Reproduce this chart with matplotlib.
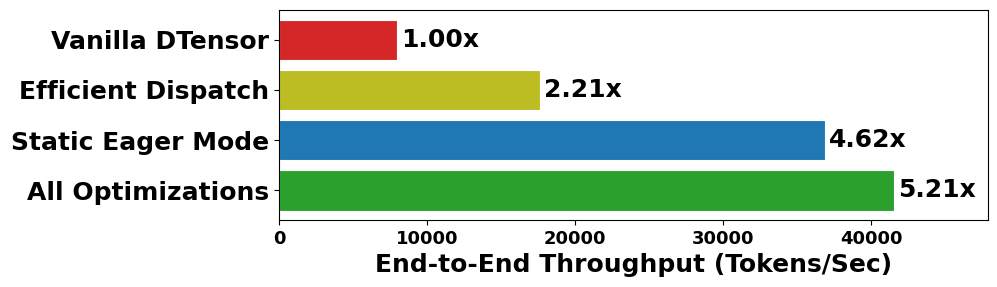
import matplotlib
matplotlib.use('Agg')
import matplotlib.pyplot as plt
import numpy as np

plt.rcParams['font.family'] = 'DejaVu Sans'
plt.rcParams['font.weight'] = 'bold'

# data
methods = ['Vanilla DTensor', 'Efficient Dispatch', 'Static Eager Mode', 'All Optimizations']
throughput = [7980, 17650, 36870, 41580]
speedup = ['1.00x', '2.21x', '4.62x', '5.21x']
colors = ['tab:red', 'tab:olive', 'tab:blue', 'tab:green']

fig = plt.figure(figsize=(9.97, 2.87), dpi=100)
ax = fig.add_axes([0.28, 0.233, 0.711, 0.732])

ypos = np.arange(len(methods))
bars = ax.barh(ypos, throughput, height=0.8, color=colors, edgecolor='white', linewidth=0.8)
ax.invert_yaxis()

for b, lab in zip(bars, speedup):
    ax.text(b.get_width() + 250, b.get_y() + b.get_height() / 2, lab,
            va='center', ha='left', fontsize=18, fontweight='bold')

ax.set_xlim(0, 47900)
ax.set_yticks(ypos)
ax.set_yticklabels(methods, fontsize=18, fontweight='bold')
ax.set_xticks([0, 10000, 20000, 30000, 40000])
ax.tick_params(axis='x', labelsize=13)
ax.set_xlabel('End-to-End Throughput (Tokens/Sec)', fontsize=18, fontweight='bold')

fig.savefig('out.png', dpi=100)
